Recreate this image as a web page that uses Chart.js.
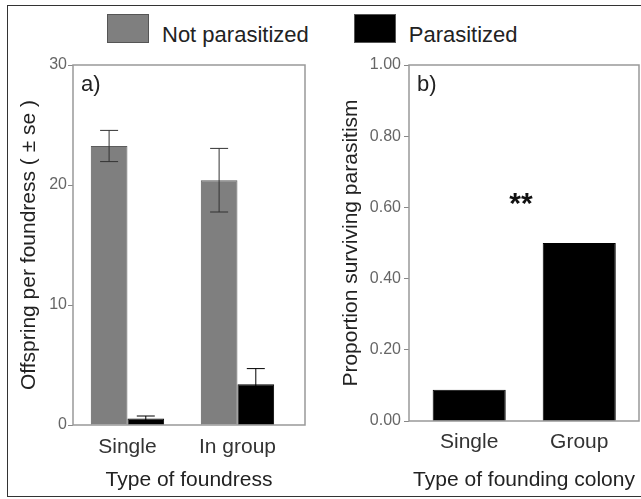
<!DOCTYPE html>
<html>
<head>
<meta charset="utf-8">
<script src="https://cdn.jsdelivr.net/npm/chart.js@4.4.0/dist/chart.umd.min.js"></script>
<style>
  html, body { margin: 0; padding: 0; background: #fff; }
  body { width: 641px; height: 499px; position: relative; overflow: hidden; font-family: "Liberation Sans", Arial, sans-serif; }
  #border { position: absolute; left: 7px; top: 5px; width: 660px; height: 490px; border: 1.5px solid #333; }
  #legend { position: absolute; left: 107px; top: 14px; display: flex; }
  .item { display: flex; margin-right: 45px; }
  .swatch { width: 42px; height: 29px; box-sizing: border-box; margin-right: 13px; border: 1px solid #555; }
  .label { font-size: 22px; line-height: 29px; position: relative; top: 6px; color: #222; white-space: nowrap; }
  .panel { position: absolute; top: 0; height: 499px; }
  #panelA { left: 0; width: 330px; }
  #panelB { left: 330px; width: 311px; }
</style>
</head>
<body>
<div id="border"></div>
<div id="legend"></div>
<div class="panel" id="panelA"><canvas id="chartA"></canvas></div>
<div class="panel" id="panelB"><canvas id="chartB"></canvas></div>
<script>
// a) offspring per foundress
const foundressTypes = ["Single", "In group"];
const notParasitized = [23.25, 20.4];
const notParasitizedSe = [1.3, 2.65];
const parasitized = [0.55, 3.4];
const parasitizedSe = [0.2, 1.3];
const offspringTicks = [0, 10, 20, 30];

// b) proportion surviving parasitism
const colonyTypes = ["Single", "Group"];
const survival = [0.088, 0.5];
const survivalTicks = [0, 0.2, 0.4, 0.6, 0.8, 1.0];

const family = '"Liberation Sans", Arial, sans-serif';
Chart.defaults.font.family = family;

// grey box round the plot area
const frame = {
  id: "frame",
  beforeDatasetsDraw(chart) {
    const { ctx, chartArea: a } = chart;
    ctx.save();
    ctx.strokeStyle = "#999";
    ctx.lineWidth = 1.5;
    ctx.strokeRect(a.left, a.top, a.right - a.left, a.bottom - a.top);
    ctx.restore();
  },
};

// +- se whiskers
const errorBars = {
  id: "errorBars",
  afterDatasetsDraw(chart) {
    const { ctx } = chart;
    const y = chart.scales.y;
    chart.data.datasets.forEach((ds, i) => {
      if (!ds.errors) return;
      chart.getDatasetMeta(i).data.forEach((bar, j) => {
        const v = ds.data[j].y;
        const hi = y.getPixelForValue(v + ds.errors[j]);
        const lo = y.getPixelForValue(v - ds.errors[j]);
        ctx.save();
        ctx.strokeStyle = ds.errorColor || "#333";
        ctx.lineWidth = 1;
        ctx.beginPath();
        ctx.moveTo(bar.x, lo);
        ctx.lineTo(bar.x, hi);
        ctx.moveTo(bar.x - 9, hi);
        ctx.lineTo(bar.x + 9, hi);
        ctx.moveTo(bar.x - 9, lo);
        ctx.lineTo(bar.x + 9, lo);
        ctx.stroke();
        ctx.restore();
      });
    });
  },
};

// "a)" / "b)" in the corner
const panelLabel = {
  id: "panelLabel",
  afterDraw(chart, args, opts) {
    if (!opts.text) return;
    const { ctx, chartArea: a } = chart;
    ctx.save();
    ctx.font = "22px " + family;
    ctx.fillStyle = "#222";
    ctx.textBaseline = "middle";
    ctx.fillText(opts.text, a.left + 8, a.top + 20);
    ctx.restore();
  },
};

// significance stars, placed in data units
const significance = {
  id: "significance",
  afterDraw(chart, args, opts) {
    if (!opts.text) return;
    const { ctx, scales } = chart;
    const px = scales.x.getPixelForValue(opts.x);
    const py = scales.y.getPixelForValue(opts.y);
    ctx.save();
    ctx.font = "bold 30px " + family;
    ctx.fillStyle = "#111";
    ctx.textAlign = "center";
    ctx.textBaseline = "alphabetic";
    const m = ctx.measureText(opts.text);
    ctx.fillText(opts.text, px, py + (m.actualBoundingBoxAscent - m.actualBoundingBoxDescent) / 2);
    ctx.restore();
  },
};

const points = (arr) => arr.map((v, i) => ({ x: i, y: v }));

const chartA = new Chart(document.getElementById("chartA"), {
  type: "bar",
  plugins: [frame, errorBars, panelLabel],
  data: {
    datasets: [
      {
        label: "Not parasitized",
        data: points(notParasitized),
        errors: notParasitizedSe,
        backgroundColor: "#7f7f7f",
        borderColor: "#5c5c5c",
        borderWidth: 1,
      },
      {
        label: "Parasitized",
        data: points(parasitized),
        errors: parasitizedSe,
        errorColor: "#000",
        backgroundColor: "#000",
        borderColor: "#000",
        borderWidth: 1,
      },
    ],
  },
  options: {
    responsive: true,
    maintainAspectRatio: false,
    devicePixelRatio: 1,
    animation: false,
    categoryPercentage: 0.667,
    barPercentage: 1,
    layout: { padding: { top: 65, right: 25, bottom: 0, left: 0 } },
    plugins: {
      legend: { display: false },
      tooltip: { enabled: false },
      panelLabel: { text: "a)" },
    },
    scales: {
      x: {
        type: "linear",
        offset: false,
        min: -0.495,
        max: 1.614,
        afterBuildTicks: (s) => { s.ticks = foundressTypes.map((_, i) => ({ value: i })); },
        ticks: { callback: (v) => foundressTypes[v], font: { size: 21 }, color: "#333", padding: 2 },
        grid: { display: false },
        border: { display: false },
        title: { display: true, text: "Type of foundress", font: { size: 21 }, color: "#222", padding: { top: 0, bottom: 6 } },
        afterFit: (s) => { s.height = 74; },
      },
      y: {
        min: 0,
        max: 30,
        afterBuildTicks: (s) => { s.ticks = offspringTicks.map((v) => ({ value: v })); },
        ticks: { font: { size: 16 }, color: "#666", padding: 1 },
        grid: { drawOnChartArea: false, tickLength: 5, color: "#888" },
        border: { display: false },
        title: { display: true, text: "Offspring per foundress ( ± se )", font: { size: 21 }, color: "#222", padding: { top: 17, bottom: 0 } },
        afterFit: (s) => { s.width = 73; },
      },
    },
  },
});

new Chart(document.getElementById("chartB"), {
  type: "bar",
  plugins: [frame, panelLabel, significance],
  data: {
    datasets: [
      {
        label: "Parasitized",
        data: points(survival),
        backgroundColor: "#000",
        borderColor: "#000",
        borderWidth: 1,
      },
    ],
  },
  options: {
    responsive: true,
    maintainAspectRatio: false,
    devicePixelRatio: 1,
    animation: false,
    categoryPercentage: 0.664,
    barPercentage: 1,
    layout: { padding: { top: 65, right: 2, bottom: 0, left: 0 } },
    plugins: {
      legend: { display: false },
      tooltip: { enabled: false },
      panelLabel: { text: "b)" },
      significance: { text: "**", x: 0.47, y: 0.623 },
    },
    scales: {
      x: {
        type: "linear",
        offset: false,
        min: -0.547,
        max: 1.543,
        afterBuildTicks: (s) => { s.ticks = colonyTypes.map((_, i) => ({ value: i })); },
        ticks: { callback: (v) => colonyTypes[v], font: { size: 21 }, color: "#333", padding: 1 },
        grid: { display: false },
        border: { display: false },
        title: { display: true, text: "Type of founding colony", font: { size: 21 }, color: "#222", padding: { top: 0, bottom: 6 } },
        afterFit: (s) => { s.height = 78; },
      },
      y: {
        min: 0,
        max: 1,
        afterBuildTicks: (s) => { s.ticks = survivalTicks.map((v) => ({ value: v })); },
        ticks: { callback: (v) => v.toFixed(2), font: { size: 16 }, color: "#666", padding: 3 },
        grid: { drawOnChartArea: false, tickLength: 5, color: "#888" },
        border: { display: false },
        title: { display: true, text: "Proportion surviving parasitism", font: { size: 21 }, color: "#222", padding: { top: 9, bottom: 0 } },
        afterFit: (s) => { s.width = 79; },
      },
    },
  },
});

// legend built from the series of panel a)
const legend = document.getElementById("legend");
chartA.data.datasets.forEach((ds) => {
  const item = document.createElement("div");
  item.className = "item";
  const sw = document.createElement("div");
  sw.className = "swatch";
  sw.style.background = ds.backgroundColor;
  const lab = document.createElement("span");
  lab.className = "label";
  lab.textContent = ds.label;
  item.appendChild(sw);
  item.appendChild(lab);
  legend.appendChild(item);
});
</script>
</body>
</html>
